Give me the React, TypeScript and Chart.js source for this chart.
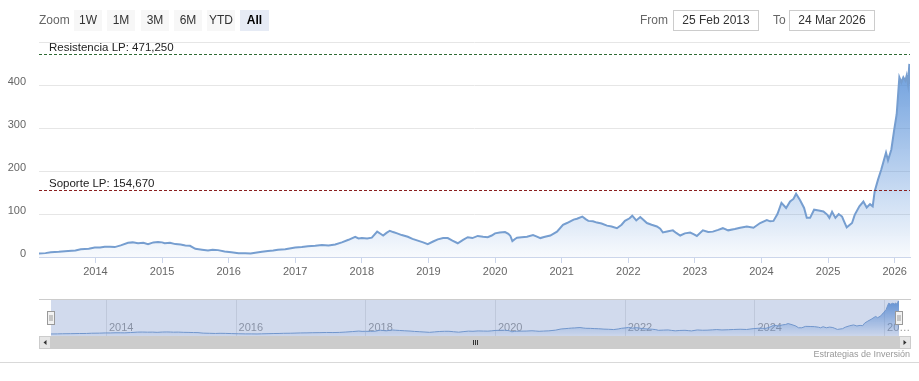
import React, { useEffect, useRef } from 'react';
import { Chart, registerables } from 'chart.js';

Chart.register(...registerables);

// ---- data ----
const years: number[] = [
  2013.15, 2013.25, 2013.33, 2013.45, 2013.59, 2013.7, 2013.78, 2013.9, 2013.99,
  2014.07, 2014.14, 2014.22, 2014.29, 2014.38, 2014.49, 2014.56, 2014.64, 2014.72, 2014.79, 2014.87, 2014.94,
  2015.0, 2015.04, 2015.12, 2015.2, 2015.28, 2015.35, 2015.42, 2015.5, 2015.6, 2015.69, 2015.76, 2015.84, 2015.94,
  2016.04, 2016.15, 2016.25, 2016.33, 2016.4, 2016.5, 2016.59, 2016.67, 2016.74, 2016.85,
  2017.0, 2017.1, 2017.19, 2017.3, 2017.4, 2017.5, 2017.6, 2017.7, 2017.8, 2017.9, 2017.95,
  2018.0, 2018.08, 2018.15, 2018.23, 2018.28, 2018.32, 2018.37, 2018.42, 2018.47, 2018.53, 2018.6, 2018.69, 2018.76, 2018.84, 2018.92, 2018.99,
  2019.07, 2019.14, 2019.22, 2019.29, 2019.36, 2019.44, 2019.52, 2019.59, 2019.66, 2019.74, 2019.82, 2019.89, 2019.95,
  2020.0, 2020.07, 2020.15, 2020.2, 2020.23, 2020.26, 2020.3, 2020.33, 2020.4, 2020.48, 2020.57, 2020.62, 2020.68, 2020.75, 2020.83, 2020.93,
  2021.02, 2021.08, 2021.13, 2021.18, 2021.23, 2021.31, 2021.36, 2021.4, 2021.47, 2021.53, 2021.6, 2021.68, 2021.75, 2021.83, 2021.9, 2021.95,
  2022.02, 2022.06, 2022.12, 2022.18, 2022.23, 2022.28, 2022.35, 2022.43, 2022.48, 2022.52, 2022.6, 2022.67, 2022.72, 2022.78, 2022.85, 2022.93, 2022.98,
  2023.03, 2023.12, 2023.2, 2023.27, 2023.35, 2023.42, 2023.5, 2023.6, 2023.68, 2023.78, 2023.88, 2023.98,
  2024.08, 2024.13, 2024.18, 2024.24, 2024.3, 2024.37, 2024.43, 2024.48, 2024.52, 2024.58, 2024.64, 2024.68, 2024.73, 2024.79, 2024.86, 2024.93, 2024.99,
  2025.02, 2025.06, 2025.11, 2025.16, 2025.21, 2025.24, 2025.28, 2025.36, 2025.4, 2025.47, 2025.53, 2025.58, 2025.63, 2025.67, 2025.7, 2025.75, 2025.8, 2025.87, 2025.9, 2025.95, 2025.99,
  2026.03, 2026.07, 2026.1, 2026.13, 2026.16, 2026.18, 2026.2, 2026.22, 2026.23,
];
const prices: number[] = [
  8, 9, 11, 12, 14, 15, 18, 19, 22,
  22, 24, 24, 23, 27, 33, 34, 32, 33, 30, 34, 35,
  34, 32, 33, 30, 29, 27, 26, 19, 17, 15, 17, 16, 13,
  11, 9, 9, 8, 10, 12, 14, 15, 17, 18,
  22, 23, 25, 26, 28, 27, 29, 34, 40, 47, 43,
  44, 43, 45, 59, 54, 50, 56, 61, 58, 55, 51, 47, 42, 38, 34, 30,
  36, 41, 44, 44, 38, 32, 40, 46, 44, 49, 47, 46, 50,
  55, 57, 58, 54, 49, 37, 42, 45, 46, 47, 51, 48, 44, 47, 50, 59,
  75, 79, 83, 87, 89, 94, 88, 84, 83, 80, 78, 73, 71, 67, 75, 84,
  90, 96, 85, 93, 86, 79, 75, 71, 66, 57, 60, 62, 56, 50, 55, 57, 53,
  49, 62, 58, 59, 63, 67, 62, 65, 68, 71, 68, 79,
  86, 83, 84, 100, 126, 114, 129, 135, 147, 132, 114, 91, 91, 110, 108, 106, 98,
  91, 105, 91, 100, 94, 83, 69, 79, 98, 118, 129, 115, 123, 118, 153, 180, 204, 243, 225, 250, 293,
  332, 418, 406, 418, 410, 422, 402, 449, 402,
];
const xStart = 2013.153;
const xEnd = 2026.23;
const yTickValues: number[] = [0, 100, 200, 300, 400, 500];
const xTickYears: number[] = [2014, 2015, 2016, 2017, 2018, 2019, 2020, 2021, 2022, 2023, 2024, 2025, 2026];
const navTickYears: number[] = [2014, 2016, 2018, 2020, 2022, 2024, 2026];
const resistanceValue = 471.25;
const supportValue = 154.67;
const resistanceLabel = 'Resistencia LP: 471,250';
const supportLabel = 'Soporte LP: 154,670';
const rangeButtons: string[] = ['1W', '1M', '3M', '6M', 'YTD', 'All'];
const fromDate = '25 Feb 2013';
const toDate = '24 Mar 2026';
const creditText = 'Estrategias de Inversión';

// ---- styles ----
const FONT = '"Liberation Sans", Arial, sans-serif';
const LINE_COLOR = 'rgb(118,158,208)';

function areaGradient(chart: any) {
  const { ctx, chartArea } = chart;
  if (!chartArea) return 'rgba(80,140,215,0.3)';
  const g = ctx.createLinearGradient(0, chartArea.top, 0, chartArea.bottom);
  g.addColorStop(0, 'rgba(78,138,214,0.92)');
  g.addColorStop(1, 'rgba(78,138,214,0.04)');
  return g;
}

const plotLinesPlugin = {
  id: 'plotLines',
  afterDatasetsDraw(chart: any) {
    const { ctx, chartArea, scales } = chart;
    const y = scales.y;
    const defs = [
      { value: resistanceValue, color: '#2f6b35', text: resistanceLabel },
      { value: supportValue, color: '#8a1f1f', text: supportLabel },
    ];
    ctx.save();
    for (const d of defs) {
      const py = Math.round(y.getPixelForValue(d.value)) + 0.5;
      ctx.strokeStyle = d.color;
      ctx.lineWidth = 1;
      ctx.setLineDash([3, 2]);
      ctx.beginPath();
      ctx.moveTo(chartArea.left, py);
      ctx.lineTo(chartArea.right, py);
      ctx.stroke();
      ctx.setLineDash([]);
      ctx.fillStyle = '#222';
      ctx.font = `11.5px ${FONT}`;
      ctx.textAlign = 'left';
      ctx.textBaseline = 'alphabetic';
      ctx.fillText(d.text, chartArea.left + 10, py - 3.5);
    }
    ctx.restore();
  },
};

const navPlugin = {
  id: 'navDecor',
  beforeDatasetsDraw(chart: any) {
    const { ctx, chartArea, scales, width } = chart;
    const x = scales.x;
    ctx.save();
    ctx.strokeStyle = '#e6e6e6';
    ctx.lineWidth = 1;
    for (const yr of navTickYears) {
      const px = Math.round(x.getPixelForValue(yr)) + 0.5;
      ctx.beginPath();
      ctx.moveTo(px, chartArea.top);
      ctx.lineTo(px, chartArea.bottom);
      ctx.stroke();
    }
    ctx.font = `11px ${FONT}`;
    ctx.fillStyle = '#999';
    ctx.textAlign = 'left';
    ctx.textBaseline = 'middle';
    for (const yr of navTickYears) {
      const px = x.getPixelForValue(yr) + 3;
      let label = String(yr);
      const avail = width - px;
      if (ctx.measureText(label).width > avail - 2) {
        while (label.length > 1 && ctx.measureText(label + '…').width > avail) label = label.slice(0, -1);
        label = label + '…';
      }
      ctx.fillText(label, px, chartArea.bottom - 8);
    }
    ctx.restore();
  },
  afterDatasetsDraw(chart: any) {
    const { ctx, chartArea, width, height } = chart;
    ctx.save();
    // mask (full range selected)
    ctx.fillStyle = 'rgba(102,133,194,0.3)';
    ctx.fillRect(chartArea.left, chartArea.top, chartArea.right - chartArea.left, chartArea.bottom - chartArea.top);
    // outline
    ctx.strokeStyle = '#cccccc';
    ctx.lineWidth = 1;
    ctx.beginPath();
    ctx.moveTo(0, chartArea.top - 0.5);
    ctx.lineTo(width, chartArea.top - 0.5);
    ctx.stroke();
    // handles
    const hy = chartArea.top + 11;
    for (const hx of [chartArea.left, chartArea.right]) {
      const left = Math.round(hx) - 3.5;
      ctx.fillStyle = '#f2f2f2';
      ctx.fillRect(left, hy + 0.5, 7, 13);
      ctx.strokeStyle = '#999';
      ctx.strokeRect(left, hy + 0.5, 7, 13);
      ctx.beginPath();
      ctx.moveTo(left + 2.5, hy + 4);
      ctx.lineTo(left + 2.5, hy + 10);
      ctx.moveTo(left + 4.5, hy + 4);
      ctx.lineTo(left + 4.5, hy + 10);
      ctx.stroke();
    }
    // scrollbar
    const sy = chartArea.bottom;
    const sh = height - chartArea.bottom - 1;
    ctx.fillStyle = '#f2f2f2';
    ctx.fillRect(0, sy, width, sh);
    ctx.fillStyle = '#cccccc';
    ctx.fillRect(chartArea.left, sy, chartArea.right - chartArea.left, sh);
    const bw = chartArea.left;
    for (const bx of [0, width - bw]) {
      ctx.fillStyle = '#e6e6e6';
      ctx.fillRect(bx, sy, bw, sh);
      ctx.strokeStyle = '#cccccc';
      ctx.strokeRect(bx + 0.5, sy + 0.5, bw - 1, sh - 1);
    }
    ctx.fillStyle = '#333';
    const cy = sy + sh / 2;
    ctx.beginPath();
    ctx.moveTo(4.5, cy);
    ctx.lineTo(7.5, cy - 2.5);
    ctx.lineTo(7.5, cy + 2.5);
    ctx.closePath();
    ctx.fill();
    ctx.beginPath();
    ctx.moveTo(width - 4.5, cy);
    ctx.lineTo(width - 7.5, cy - 2.5);
    ctx.lineTo(width - 7.5, cy + 2.5);
    ctx.closePath();
    ctx.fill();
    // grip
    const gx = Math.round((chartArea.left + chartArea.right) / 2);
    ctx.strokeStyle = '#333';
    ctx.beginPath();
    for (const o of [-2, 0, 2]) {
      ctx.moveTo(gx + o + 0.5, cy - 2.5);
      ctx.lineTo(gx + o + 0.5, cy + 2.5);
    }
    ctx.stroke();
    ctx.restore();
  },
};

export default function App() {
  const mainRef = useRef<HTMLCanvasElement | null>(null);
  const navRef = useRef<HTMLCanvasElement | null>(null);

  useEffect(() => {
    const points = years.map((yr, i) => ({ x: yr, y: prices[i] }));
    const main = new Chart(mainRef.current as HTMLCanvasElement, {
      type: 'line',
      data: {
        datasets: [
          {
            data: points,
            borderColor: LINE_COLOR,
            borderWidth: 2,
            pointRadius: 0,
            tension: 0,
            fill: 'start',
            backgroundColor: (c: any) => areaGradient(c.chart),
          },
        ],
      },
      options: {
        animation: false,
        responsive: false,
        devicePixelRatio: 1,
        layout: { padding: { top: 42, right: 9, left: 0, bottom: 0 } },
        plugins: { legend: { display: false }, tooltip: { enabled: false } },
        scales: {
          x: {
            type: 'linear',
            min: xStart,
            max: xEnd,
            afterBuildTicks: (s: any) => {
              s.ticks = xTickYears.map((v) => ({ value: v }));
            },
            afterFit: (s: any) => {
              s.height = 33;
            },
            grid: { drawOnChartArea: false, drawTicks: true, tickLength: 6, color: '#ccd6eb' },
            border: { display: true, color: '#ccd6eb' },
            ticks: {
              autoSkip: false,
              maxRotation: 0,
              padding: 2,
              color: '#666',
              font: { family: FONT, size: 11 },
              callback: (v: any) => String(v),
            },
          },
          y: {
            min: 0,
            max: 500,
            afterBuildTicks: (s: any) => {
              s.ticks = yTickValues.map((v) => ({ value: v }));
            },
            afterFit: (s: any) => {
              s.width = 39;
            },
            grid: { color: '#e6e6e6', drawTicks: false },
            border: { display: false },
            ticks: {
              padding: 13,
              color: '#666',
              labelOffset: -3,
              font: { family: FONT, size: 11 },
              callback: (v: any) => (v === 500 ? '' : String(v)),
            },
          },
        },
      } as any,
      plugins: [plotLinesPlugin],
    });

    const nav = new Chart(navRef.current as HTMLCanvasElement, {
      type: 'line',
      data: {
        datasets: [
          {
            data: points,
            borderColor: LINE_COLOR,
            borderWidth: 1,
            pointRadius: 0,
            tension: 0,
            fill: 'start',
            backgroundColor: (c: any) => areaGradient(c.chart),
          },
        ],
      },
      options: {
        animation: false,
        responsive: false,
        devicePixelRatio: 1,
        layout: { padding: { top: 1, right: 12, left: 12, bottom: 14 } },
        plugins: { legend: { display: false }, tooltip: { enabled: false } },
        scales: {
          x: { type: 'linear', min: xStart, max: xEnd, display: false },
          y: { min: -19, max: 462, display: false },
        },
      } as any,
      plugins: [navPlugin],
    });

    return () => {
      main.destroy();
      nav.destroy();
    };
  }, []);

  const btnLefts = [74, 107, 141, 174, 207, 240];

  return (
    <div style={{ position: 'absolute', left: 0, top: 0, width: 919, height: 381, background: '#fff', fontFamily: FONT, overflow: 'hidden' }}>
      <canvas ref={mainRef} width={919} height={290} style={{ position: 'absolute', left: 0, top: 0, width: 919, height: 290 }} />
      <canvas ref={navRef} width={872} height={51} style={{ position: 'absolute', left: 39, top: 299, width: 872, height: 51 }} />
      <div style={{ position: 'absolute', left: 39, top: 10, height: 21, lineHeight: '21px', fontSize: 12, color: '#666' }}>Zoom</div>
      {rangeButtons.map((b, i) => {
        const sel = b === 'All';
        return (
          <div
            key={b}
            style={{
              position: 'absolute',
              left: btnLefts[i],
              top: 10,
              width: i === rangeButtons.length - 1 ? 29 : 28,
              height: 21,
              lineHeight: '21px',
              textAlign: 'center',
              fontSize: 12,
              background: sel ? '#e6ebf5' : '#f7f7f7',
              color: sel ? '#000' : '#333',
              fontWeight: sel ? 'bold' : 'normal',
            }}
          >
            {b}
          </div>
        );
      })}
      <div style={{ position: 'absolute', left: 640, top: 10, height: 21, lineHeight: '21px', fontSize: 12, color: '#666' }}>From</div>
      <div style={{ position: 'absolute', left: 673, top: 10, width: 84, height: 19, lineHeight: '19px', border: '1px solid #ccc', textAlign: 'center', fontSize: 12, color: '#333' }}>{fromDate}</div>
      <div style={{ position: 'absolute', left: 773, top: 10, height: 21, lineHeight: '21px', fontSize: 12, color: '#666' }}>To</div>
      <div style={{ position: 'absolute', left: 789, top: 10, width: 84, height: 19, lineHeight: '19px', border: '1px solid #ccc', textAlign: 'center', fontSize: 12, color: '#333' }}>{toDate}</div>
      <div style={{ position: 'absolute', right: 9, top: 348, height: 12, lineHeight: '12px', fontSize: 9, color: '#999', whiteSpace: 'nowrap' }}>{creditText}</div>
      <div style={{ position: 'absolute', left: 0, top: 362, width: 919, height: 1, background: '#d9d9d9' }} />
    </div>
  );
}
